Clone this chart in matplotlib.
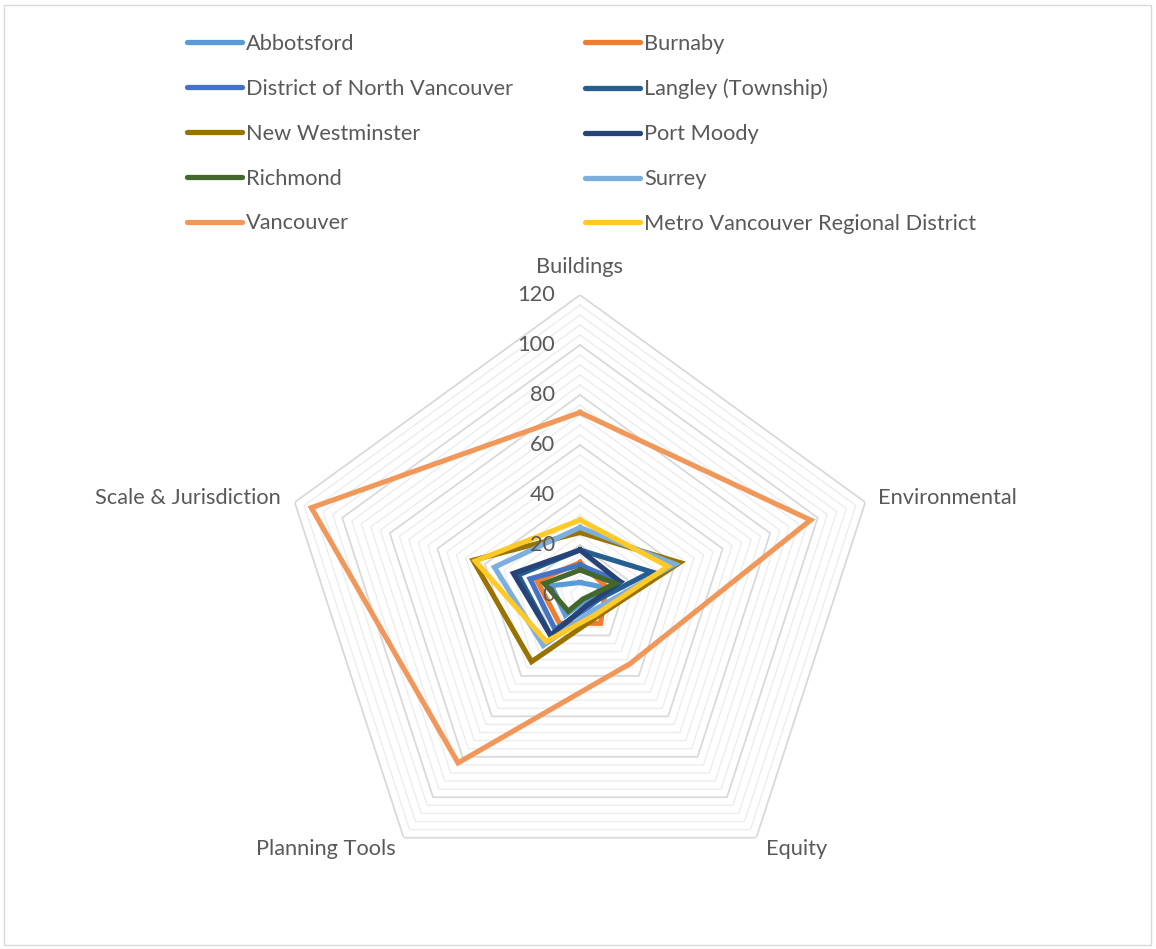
import numpy as np
import matplotlib
matplotlib.use("Agg")
import matplotlib.pyplot as plt
from matplotlib.lines import Line2D
from matplotlib.patches import Rectangle

plt.rcParams['font.family'] = ['Lato', 'DejaVu Sans']

categories = ["Buildings", "Environmental", "Equity", "Planning Tools", "Scale & Jurisdiction"]
series_names = ["Abbotsford", "Burnaby", "District of North Vancouver", "Langley (Township)",
                "New Westminster", "Port Moody", "Richmond", "Surrey", "Vancouver",
                "Metro Vancouver Regional District"]
abbotsford = [5, 10, 3, 10, 12]
burnaby = [13, 11, 14, 14, 18]
north_vancouver = [12, 17, 6, 17, 21]
langley = [18, 30, 5, 20, 26]
new_westminster = [25, 42, 11, 33, 45]
port_moody = [18, 17, 5, 20, 28]
richmond = [10, 15, 2, 8, 15]
surrey = [27, 40, 8, 25, 36]
vancouver = [73, 97, 34, 83, 113]
metro = [30, 37, 10, 23, 44]
series_values = [abbotsford, burnaby, north_vancouver, langley, new_westminster,
                 port_moody, richmond, surrey, vancouver, metro]
colors = ["#5B9BD5", "#ED7D31", "#4472C4", "#255E91", "#997300",
          "#264478", "#43682B", "#7CAFDD", "#F1975A", "#FFC926"]
r_ticks = [0, 20, 40, 60, 80, 100, 120]

FS = 15.7
W, H = 1156, 949
fig = plt.figure(figsize=(W / 100, H / 100), dpi=100)
fig.patches.append(Rectangle((4 / W, 4 / H), 1 - 9 / W, 1 - 9 / H, transform=fig.transFigure,
                             fill=False, edgecolor="#D9D9D9", linewidth=1))

cx, cy, R = 580, 595, 300
ax = fig.add_axes([(cx - R) / W, (H - cy - R) / H, 2 * R / W, 2 * R / H], projection="polar")
ax.set_theta_offset(np.pi / 2)
ax.set_theta_direction(-1)
ax.set_ylim(0, 120)
ax.grid(False)
ax.set_xticks([])
ax.set_yticks([])
ax.spines['polar'].set_visible(False)
ax.patch.set_alpha(0)

n = len(categories)
angles = np.linspace(0, 2 * np.pi, n, endpoint=False)
closed = np.concatenate([angles, angles[:1]])

# polygon grid
for r in range(4, 121, 4):
    major = (r % 20 == 0)
    ax.plot(closed, [r] * (n + 1), color="#D9D9D9" if major else "#EDEDED",
            lw=1.3 if major else 1.0, zorder=1)

for name, vals, c in zip(series_names, series_values, colors):
    ax.plot(closed, list(vals) + [vals[0]], color=c, lw=3.7, label=name, zorder=3,
            solid_joinstyle="miter")

# radial tick labels
txtc = "#595959"
for r in r_ticks:
    ax.annotate(str(r), xy=(0, r), xytext=(-18, 0), textcoords="offset points",
                ha="right", va="center", fontsize=FS, color=txtc, zorder=5)

# category labels
offs = [((0, 20), "center", "center"), ((9, 3), "left", "center"),
        ((7, -8), "left", "center"), ((-6, -8), "right", "center"),
        ((-10, 3), "right", "center")]
for a, lab, (o, ha, va) in zip(angles, categories, offs):
    ax.annotate(lab, xy=(a, 120), xytext=o, textcoords="offset points",
                ha=ha, va=va, fontsize=FS, color=txtc, annotation_clip=False)

handles = [Line2D([], [], color=c, lw=3.8, solid_capstyle="round") for c in colors]
for col in range(2):
    idx = list(range(col, 10, 2))
    x0 = (187 if col == 0 else 585) / W
    fig.legend([handles[i] for i in idx], [series_names[i] for i in idx],
               loc="upper left", bbox_to_anchor=(x0, 1 - 34 / H), frameon=False,
               borderpad=0, borderaxespad=0, handlelength=2.52, handletextpad=0.18,
               labelspacing=1.14, fontsize=FS, labelcolor=txtc)

fig.savefig("out.png", dpi=100)
